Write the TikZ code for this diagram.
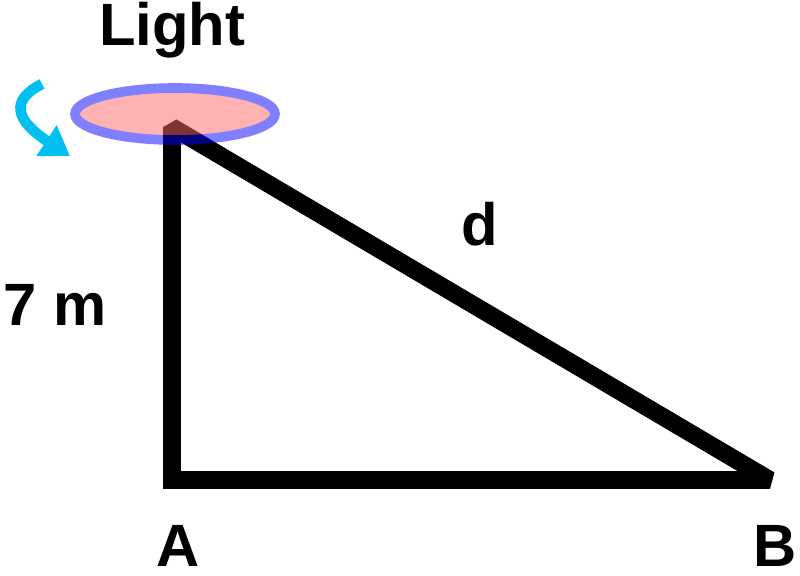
\documentclass[tikz,border=0pt]{standalone}
\usepackage{fontspec}
\setmainfont{Liberation Sans}
\usetikzlibrary{arrows.meta}
\definecolor{lampfill}{HTML}{FF6666}
\definecolor{lampring}{HTML}{0000FF}
\definecolor{spin}{HTML}{00C0F0}
\tikzset{
  side/.style={line width=10pt, line join=miter, miter limit=2},
  lbl/.style={font=\bfseries\fontsize{34}{40}\selectfont, inner sep=0pt}
}
\begin{document}
\begin{tikzpicture}[x=0.02cm, y=-0.02cm]
\useasboundingbox (0,0) rectangle (800,575);
\coordinate (top) at (172,127);
\coordinate (A) at (172,480);
\coordinate (B) at (770,480);

\draw[side] (top) -- (A) -- (B) -- cycle;

% lamp
\begin{scope}[transparency group, opacity=0.5]
\path[fill=lampfill, draw=lampring, line width=5.5pt]
  (175,114) ellipse [x radius=100, y radius=26];
\end{scope}
\draw[spin, line width=6pt, -{Triangle[length=16pt, width=20pt]}]
  (42,84) .. controls (10,100) and (15,120) .. (70,156);

\node[lbl] (light) at (172,30) {Light};
\node[lbl] (d) at (480,224) {d};
\node[lbl] (h) at (55,305) {7 m};
\node[lbl] (a) at (178,546) {A};
\node[lbl] (b) at (775,546) {B};
\end{tikzpicture}
\end{document}
